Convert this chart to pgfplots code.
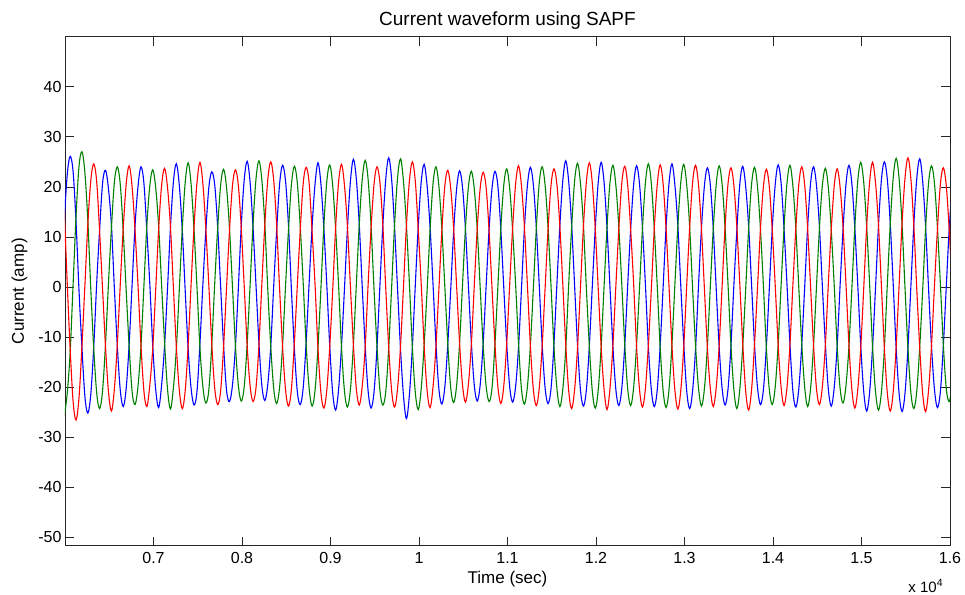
\documentclass[border=0pt]{standalone}
\usepackage{pgfplots}
\pgfplotsset{compat=1.18}
\usepackage{pgfplotstable}
\usepackage{fontspec}
\setmainfont{Liberation Sans}
\definecolor{mblue}{rgb}{0,0,1}
\definecolor{mgreen}{rgb}{0,0.5,0}
\definecolor{mred}{rgb}{1,0,0}

\pgfplotstableread{
x b g r
5991.7 13.2 -25.8 15.5
6025 22.4 -21.3 0.8
6058.3 26.1 -13.0 -12.4
6091.7 23.0 0.6 -22.9
6125 12.9 14.2 -26.6
6158.3 -0.7 24.1 -22.1
6191.7 -12.2 27.0 -11.8
6225 -21.9 22.8 0.4
6258.3 -25.2 13.1 12.6
6291.7 -21.4 -0.5 21.3
6325 -11.9 -12.4 24.6
6358.3 0.8 -21.2 21.0
6391.7 11.6 -24.3 10.9
6425 20.8 -20.6 -0.6
6458.3 23.3 -11.2 -12.1
6491.7 19.5 0.9 -21.0
6525 12.2 11.9 -24.8
6558.3 -0.4 21.0 -20.3
6591.7 -12.0 24.0 -11.3
6625 -20.7 20.4 0.7
6658.3 -23.9 11.0 11.8
6691.7 -20.2 -0.8 20.6
6725 -11.4 -12.0 24.2
6758.3 0.5 -20.9 20.0
6791.7 12.3 -23.5 11.2
6825 20.1 -19.8 0.3
6858.3 24.0 -11.9 -11.6
6891.7 20.7 0.2 -20.8
6925 11.1 12.3 -23.9
6958.3 0.6 20.2 -19.6
6991.7 -11.8 23.4 -12.2
7025 -20.5 19.8 -0.5
7058.3 -24.1 12.1 11.6
7091.7 -19.6 0.4 20.3
7125 -11.7 -11.1 23.7
7158.3 -0.3 -20.4 19.9
7191.7 11.9 -24.4 12.0
7225 21.0 -20.1 -0.2
7258.3 24.6 -12.3 -12.0
7291.7 20.3 -0.5 -20.6
7325 11.4 11.6 -24.3
7358.3 -0.8 20.9 -20.7
7391.7 -12.4 24.8 -11.6
7425 -20.3 20.5 0.6
7458.3 -23.6 11.3 12.1
7491.7 -20.8 -0.2 20.9
7525 -11.2 -12.2 24.9
7558.3 0.6 -20.0 20.6
7591.7 11.4 -23.2 11.5
7625 19.8 -20.6 0.4
7658.3 23.0 -11.6 -11.3
7691.7 20.4 0.7 -20.2
7725 12.0 11.7 -23.5
7758.3 0.2 20.3 -20.8
7791.7 -11.6 23.5 -12.0
7825 -20.6 19.9 -0.3
7858.3 -22.9 11.8 11.2
7891.7 -19.7 0.3 20.1
7925 -12.1 -11.5 23.4
7958.3 -0.4 -19.6 20.4
7991.7 12.2 -22.8 11.8
8025 21.4 -19.9 0.2
8058.3 25.1 -11.4 -11.7
8091.7 20.9 0.5 -19.8
8125 11.8 12.6 -22.9
8158.3 0.3 21.6 -20.1
8191.7 -11.3 25.2 -11.5
8225 -19.8 21.2 0.8
8258.3 -22.7 12.4 12.6
8291.7 -19.4 -0.6 21.5
8325 -11.8 -11.9 25.0
8358.3 0.2 -20.3 21.3
8391.7 11.3 -23.3 12.3
8425 20.6 -20.0 -0.4
8458.3 24.3 -11.8 -11.9
8491.7 21.2 0.1 -20.5
8525 12.4 11.3 -23.8
8558.3 -0.5 20.4 -20.4
8591.7 -12.3 24.1 -11.2
8625 -20.9 20.8 0.3
8658.3 -23.5 12.0 11.4
8691.7 -20.1 0.7 20.7
8725 -11.0 -11.6 23.9
8758.3 0.7 -20.2 20.8
8791.7 12.0 -23.8 11.1
8825 20.5 -20.7 0.6
8858.3 24.8 -12.1 -12.3
8891.7 20.6 -0.3 -21.1
8925 11.7 12.2 -24.2
8958.3 0.4 21.1 -20.6
8991.7 -11.9 24.4 -11.8
9025 -21.2 20.2 -0.6
9058.3 -24.6 11.5 12.0
9091.7 -20.4 0.2 21.0
9125 -11.6 -12.3 24.5
9158.3 -0.2 -20.9 20.2
9191.7 11.8 -24.0 11.9
9225 21.1 -20.5 0.1
9258.3 25.5 -11.7 -11.4
9291.7 21.6 0.4 -20.3
9325 12.5 12.5 -23.6
9358.3 0.1 21.4 -19.9
9391.7 -11.7 25.3 -12.1
9425 -20.8 21.5 0.5
9458.3 -24.2 12.3 11.7
9491.7 -21.0 -0.4 20.5
9525 -12.2 -11.8 24.0
9558.3 0.3 -20.6 20.9
9591.7 12.4 -23.6 12.2
9625 21.7 -20.8 -0.5
9658.3 25.8 -12.0 -12.2
9691.7 21.3 0.3 -20.9
9725 11.5 12.8 -24.0
9758.3 -0.6 21.9 -20.2
9791.7 -12.6 25.6 -11.7
9825 -21.8 21.0 0.2
9858.3 -26.3 12.2 12.4
9891.7 -21.5 0.6 21.2
9925 -12.0 -12.1 25.0
9958.3 0.4 -21.1 21.1
9991.7 12.1 -24.5 11.4
10025 21.0 -20.3 0.6
10058.3 24.5 -11.5 -11.8
10091.7 20.2 -0.6 -20.7
10125 11.9 11.4 -24.1
10158.3 0.6 20.6 -20.0
10191.7 -11.4 24.0 -11.9
10225 -20.4 20.1 -0.4
10258.3 -23.4 11.6 11.3
10291.7 -20.0 0.1 20.2
10325 -11.5 -11.3 23.3
10358.3 -0.5 -20.1 19.7
10391.7 11.2 -23.1 11.6
10425 19.6 -19.7 0.2
10458.3 23.2 -11.3 -11.2
10491.7 19.9 0.5 -19.6
10525 11.6 11.8 -23.0
10558.3 0.2 20.0 -19.4
10591.7 -11.2 23.1 -11.4
10625 -19.7 19.5 0.4
10658.3 -22.8 11.4 11.7
10691.7 -19.5 -0.3 19.8
10725 -11.3 -11.7 22.9
10758.3 0.1 -19.8 19.9
10791.7 11.5 -22.9 11.3
10825 19.7 -20.2 -0.2
10858.3 23.1 -11.4 -11.5
10891.7 20.1 0.2 -20.0
10925 11.3 11.9 -23.3
10958.3 -0.3 20.4 -19.7
10991.7 -11.6 23.6 -11.1
11025 -20.0 19.6 0.6
11058.3 -23.0 11.2 11.9
11091.7 -19.9 0.5 20.6
11125 -11.9 -11.4 24.2
11158.3 -0.2 -20.5 20.1
11191.7 11.9 -23.4 11.8
11225 20.3 -19.9 0.3
11258.3 23.9 -11.8 -11.7
11291.7 20.5 -0.4 -20.4
11325 12.1 11.5 -23.7
11358.3 0.5 20.7 -20.3
11391.7 -11.5 24.0 -11.8
11425 -20.2 20.3 -0.2
11458.3 -23.3 11.9 11.5
11491.7 -20.3 0.2 20.3
11525 -11.4 -12.0 23.6
11558.3 0.6 -20.3 20.5
11591.7 12.3 -23.9 12.1
11625 21.3 -20.4 0.5
11658.3 25.2 -12.2 -11.6
11691.7 21.0 0.6 -20.8
11725 12.3 12.0 -24.3
11758.3 0.2 21.2 -20.5
11791.7 -11.8 24.7 -12.0
11825 -20.7 20.6 0.1
11858.3 -23.8 12.2 12.2
11891.7 -20.5 -0.5 21.1
11925 -11.7 -11.9 24.8
11958.3 0.2 -20.8 20.7
11991.7 11.7 -24.2 11.6
12025 20.9 -20.6 -0.3
12058.3 24.9 -11.9 -12.0
12091.7 20.8 0.3 -20.6
12125 11.6 12.1 -24.5
12158.3 -0.2 20.9 -20.2
12191.7 -12.1 24.3 -11.5
12225 -20.6 20.2 0.4
12258.3 -23.7 11.8 11.8
12291.7 -20.2 0.4 20.8
12325 -11.6 -11.6 24.1
12358.3 0.4 -20.4 20.3
12391.7 11.6 -23.7 11.4
12425 20.4 -20.1 0.7
12458.3 24.2 -11.6 -11.9
12491.7 20.6 -0.2 -20.5
12525 11.8 11.7 -24.0
12558.3 0.5 20.8 -20.3
12591.7 -11.9 24.6 -11.6
12625 -20.5 20.7 -0.5
12658.3 -23.9 11.7 11.6
12691.7 -20.6 0.3 20.4
12725 -11.8 -12.1 24.4
12758.3 -0.1 -20.7 20.6
12791.7 12.0 -24.1 11.7
12825 20.7 -20.5 0.1
12858.3 24.6 -11.4 -11.8
12891.7 20.3 0.6 -20.7
12925 12.2 12.3 -24.4
12958.3 0.1 21.0 -20.6
12991.7 -11.5 24.5 -11.9
13025 -20.8 20.4 0.3
13058.3 -24.3 12.0 11.9
13091.7 -20.7 -0.4 20.9
13125 -12.3 -11.8 24.3
13158.3 0.3 -20.2 20.4
13191.7 11.8 -23.8 11.5
13225 20.2 -20.3 -0.4
13258.3 23.8 -12.0 -12.1
13291.7 20.4 0.1 -20.3
13325 11.7 11.6 -23.9
13358.3 -0.4 20.5 -20.1
13391.7 -12.0 24.2 -11.7
13425 -20.3 20.5 0.2
13458.3 -23.6 11.9 12.0
13491.7 -20.4 0.5 20.6
13525 -11.7 -11.7 23.8
13558.3 0.5 -20.6 20.2
13591.7 11.4 -24.3 11.9
13625 20.6 -20.4 0.5
13658.3 24.1 -11.7 -11.4
13691.7 20.0 -0.3 -20.9
13725 12.0 11.8 -24.6
13758.3 0.3 20.6 -20.4
13791.7 -11.7 23.9 -11.3
13825 -20.1 20.0 -0.1
13858.3 -23.5 11.5 11.6
13891.7 -20.5 0.2 20.1
13925 -11.9 -12.2 23.5
13958.3 -0.3 -20.5 20.0
13991.7 11.7 -23.5 11.3
14025 20.5 -20.0 0.3
14058.3 24.4 -11.5 -11.6
14091.7 20.7 0.4 -20.1
14125 11.5 12.0 -23.7
14158.3 0.4 20.8 -20.0
14191.7 -11.6 24.3 -11.4
14225 -20.9 20.1 0.5
14258.3 -24.0 11.6 11.8
14291.7 -20.3 -0.2 20.5
14325 -11.5 -11.5 24.0
14358.3 0.1 -20.1 20.3
14391.7 12.1 -23.9 11.5
14425 20.8 -20.2 -0.1
14458.3 24.0 -11.6 -11.8
14491.7 20.2 0.2 -20.4
14525 11.9 11.9 -23.5
14558.3 -0.1 20.4 -19.8
14591.7 -11.4 23.7 -11.6
14625 -20.4 19.9 0.6
14658.3 -23.8 11.3 11.5
14691.7 -20.1 0.3 20.2
14725 -11.8 -11.9 23.6
14758.3 0.4 -20.3 19.9
14791.7 11.6 -23.2 11.9
14825 20.6 -19.6 0.4
14858.3 24.3 -11.8 -11.7
14891.7 20.5 -0.1 -20.6
14925 11.6 12.2 -24.2
14958.3 0.2 21.3 -20.4
14991.7 -11.9 24.9 -12.0
15025 -20.9 20.9 -0.3
15058.3 -24.8 12.1 12.1
15091.7 -21.0 0.6 21.0
15125 -12.0 -12.0 24.9
15158.3 -0.2 -20.9 20.8
15191.7 12.2 -24.6 12.4
15225 21.4 -21.0 0.2
15258.3 25.0 -12.3 -12.2
15291.7 21.5 0.5 -21.2
15325 12.6 12.6 -24.8
15358.3 0.5 21.8 -20.9
15391.7 -12.2 25.7 -11.9
15425 -21.3 21.6 0.4
15458.3 -24.9 12.5 12.7
15491.7 -21.2 -0.3 21.8
15525 -12.1 -12.4 25.8
15558.3 0.3 -21.2 21.5
15591.7 12.6 -24.3 12.0
15625 21.8 -20.7 -0.6
15658.3 25.6 -11.9 -12.3
15691.7 21.0 -0.4 -21.4
15725 11.8 12.0 -24.9
15758.3 -0.6 20.9 -20.5
15791.7 -12.1 24.2 -11.5
15825 -20.6 20.6 0.5
15858.3 -24.1 11.7 11.6
15891.7 -20.8 0.4 20.6
15925 -11.6 -11.7 23.8
15958.3 0.2 -20.4 20.1
15991.7 11.8 -22.9 11.2
16025 20.3 -19.5 -0.3
}\wave

\begin{document}
\begin{tikzpicture}
\path[use as bounding box] (-65pt,-48.3pt) rectangle (900pt,545.7pt);
\begin{axis}[
  at={(0pt,0pt)}, anchor=south west,
  scale only axis, width=885pt, height=509pt,
  xmin=6000, xmax=16000, ymin=-51.7, ymax=50,
  xtick={7000,8000,9000,10000,11000,12000,13000,14000,15000,16000},
  xticklabels={0.7,0.8,0.9,1,1.1,1.2,1.3,1.4,1.5,1.6},
  ytick={-50,-40,-30,-20,-10,0,10,20,30,40},
  yticklabels={-50,-40,-30,-20,-10,0,10,20,30,40},
  scaled x ticks=false,
  tick align=inside,
  major tick length=9pt,
  axis line style={line width=0.8pt, black!85},
  tick style={line width=0.6pt, black!85},
  ticklabel style={font=\fontsize{16}{18}\selectfont},
  xticklabel style={anchor=base, yshift=-17.6pt},
  clip=true,
]
\addplot[mblue, line width=1.1pt, smooth, tension=0.55] table[x=x, y=b] {\wave};
\addplot[mgreen, line width=1.1pt, smooth, tension=0.55] table[x=x, y=g] {\wave};
\addplot[mred, line width=1.1pt, smooth, tension=0.55] table[x=x, y=r] {\wave};
\end{axis}
\node[anchor=base, font=\fontsize{19}{22}\selectfont] at (442.5pt,519.7pt) {Current waveform using SAPF};
\node[anchor=base, font=\fontsize{17}{20}\selectfont] at (442.5pt,-37.8pt) {Time (sec)};
\node[rotate=90, anchor=center, font=\fontsize{17}{20}\selectfont] at (-45.5pt,254.5pt) {Current (amp)};
\node[anchor=base east, inner sep=0pt, font=\fontsize{15}{17}\selectfont] at (878.3pt,-46.5pt) {x 10\textsuperscript{4}};
\end{tikzpicture}
\end{document}
